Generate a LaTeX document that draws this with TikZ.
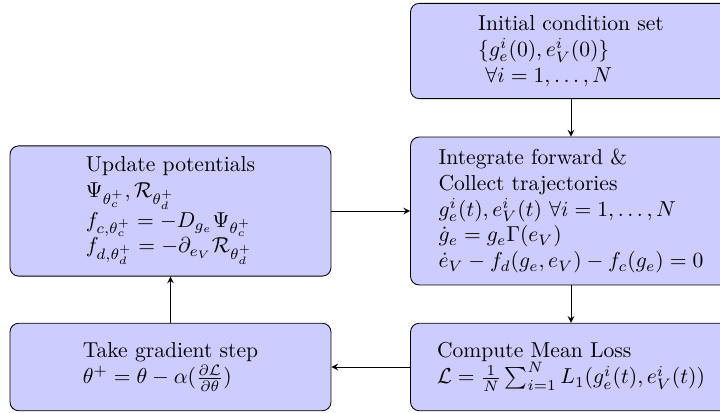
\documentclass[tikz,border=0pt]{standalone}
\usepackage{amsmath}
\usetikzlibrary{arrows}
\begin{document}
\begin{tikzpicture}[x=0.463pt,y=-0.463pt,
  box/.style={draw=black, fill=blue!20, rounded corners=4pt, align=left,
    minimum width=148.6pt, inner sep=3pt},
  conn/.style={->, >=stealth, line width=0.4pt}]
\useasboundingbox (0,0) rectangle (720,413);
\clip (0,0) rectangle (720,413);
\node[box, minimum height=44.1pt] (init) at (571,51) {Initial condition set\\ $\{g_e^i(0), e_V^i(0)\}$\\ $\ \forall i = 1,\ldots,N$};
\node[box, minimum height=68.5pt] (integ) at (571,211) {Integrate forward \&\\ Collect trajectories\\ $g_e^i(t), e_V^i(t)\ \forall i=1,\ldots,N$\\ $\dot{g}_e = g_e\Gamma(e_V)$\\ $\dot{e}_V - f_d(g_e,e_V) - f_c(g_e) = 0$};
\node[box, minimum height=40.5pt] (loss) at (571,367) {Compute Mean Loss\\ $\mathcal{L} = \frac{1}{N}\sum_{i=1}^N L_1(g_e^i(t), e_V^i(t))$};
\node[box, minimum height=40.5pt] (grad) at (170.5,367) {Take gradient step\\ $\theta^+ = \theta - \alpha(\frac{\partial\mathcal{L}}{\partial\theta})$};
\node[box, minimum height=60.3pt] (upd) at (170.5,211) {Update potentials\\ $\Psi_{\theta_c^+}, \mathcal{R}_{\theta_d^+}$\\ $f_{c,\theta_c^+} = -D_{g_e}\Psi_{\theta_c^+}$\\ $f_{d,\theta_d^+} = -\partial_{e_V}\mathcal{R}_{\theta_d^+}$};
\draw[conn] (init) -- (integ);
\draw[conn] (integ) -- (loss);
\draw[conn] (loss) -- (grad);
\draw[conn] (grad) -- (upd);
\draw[conn] (upd) -- (integ);
\end{tikzpicture}
\end{document}
